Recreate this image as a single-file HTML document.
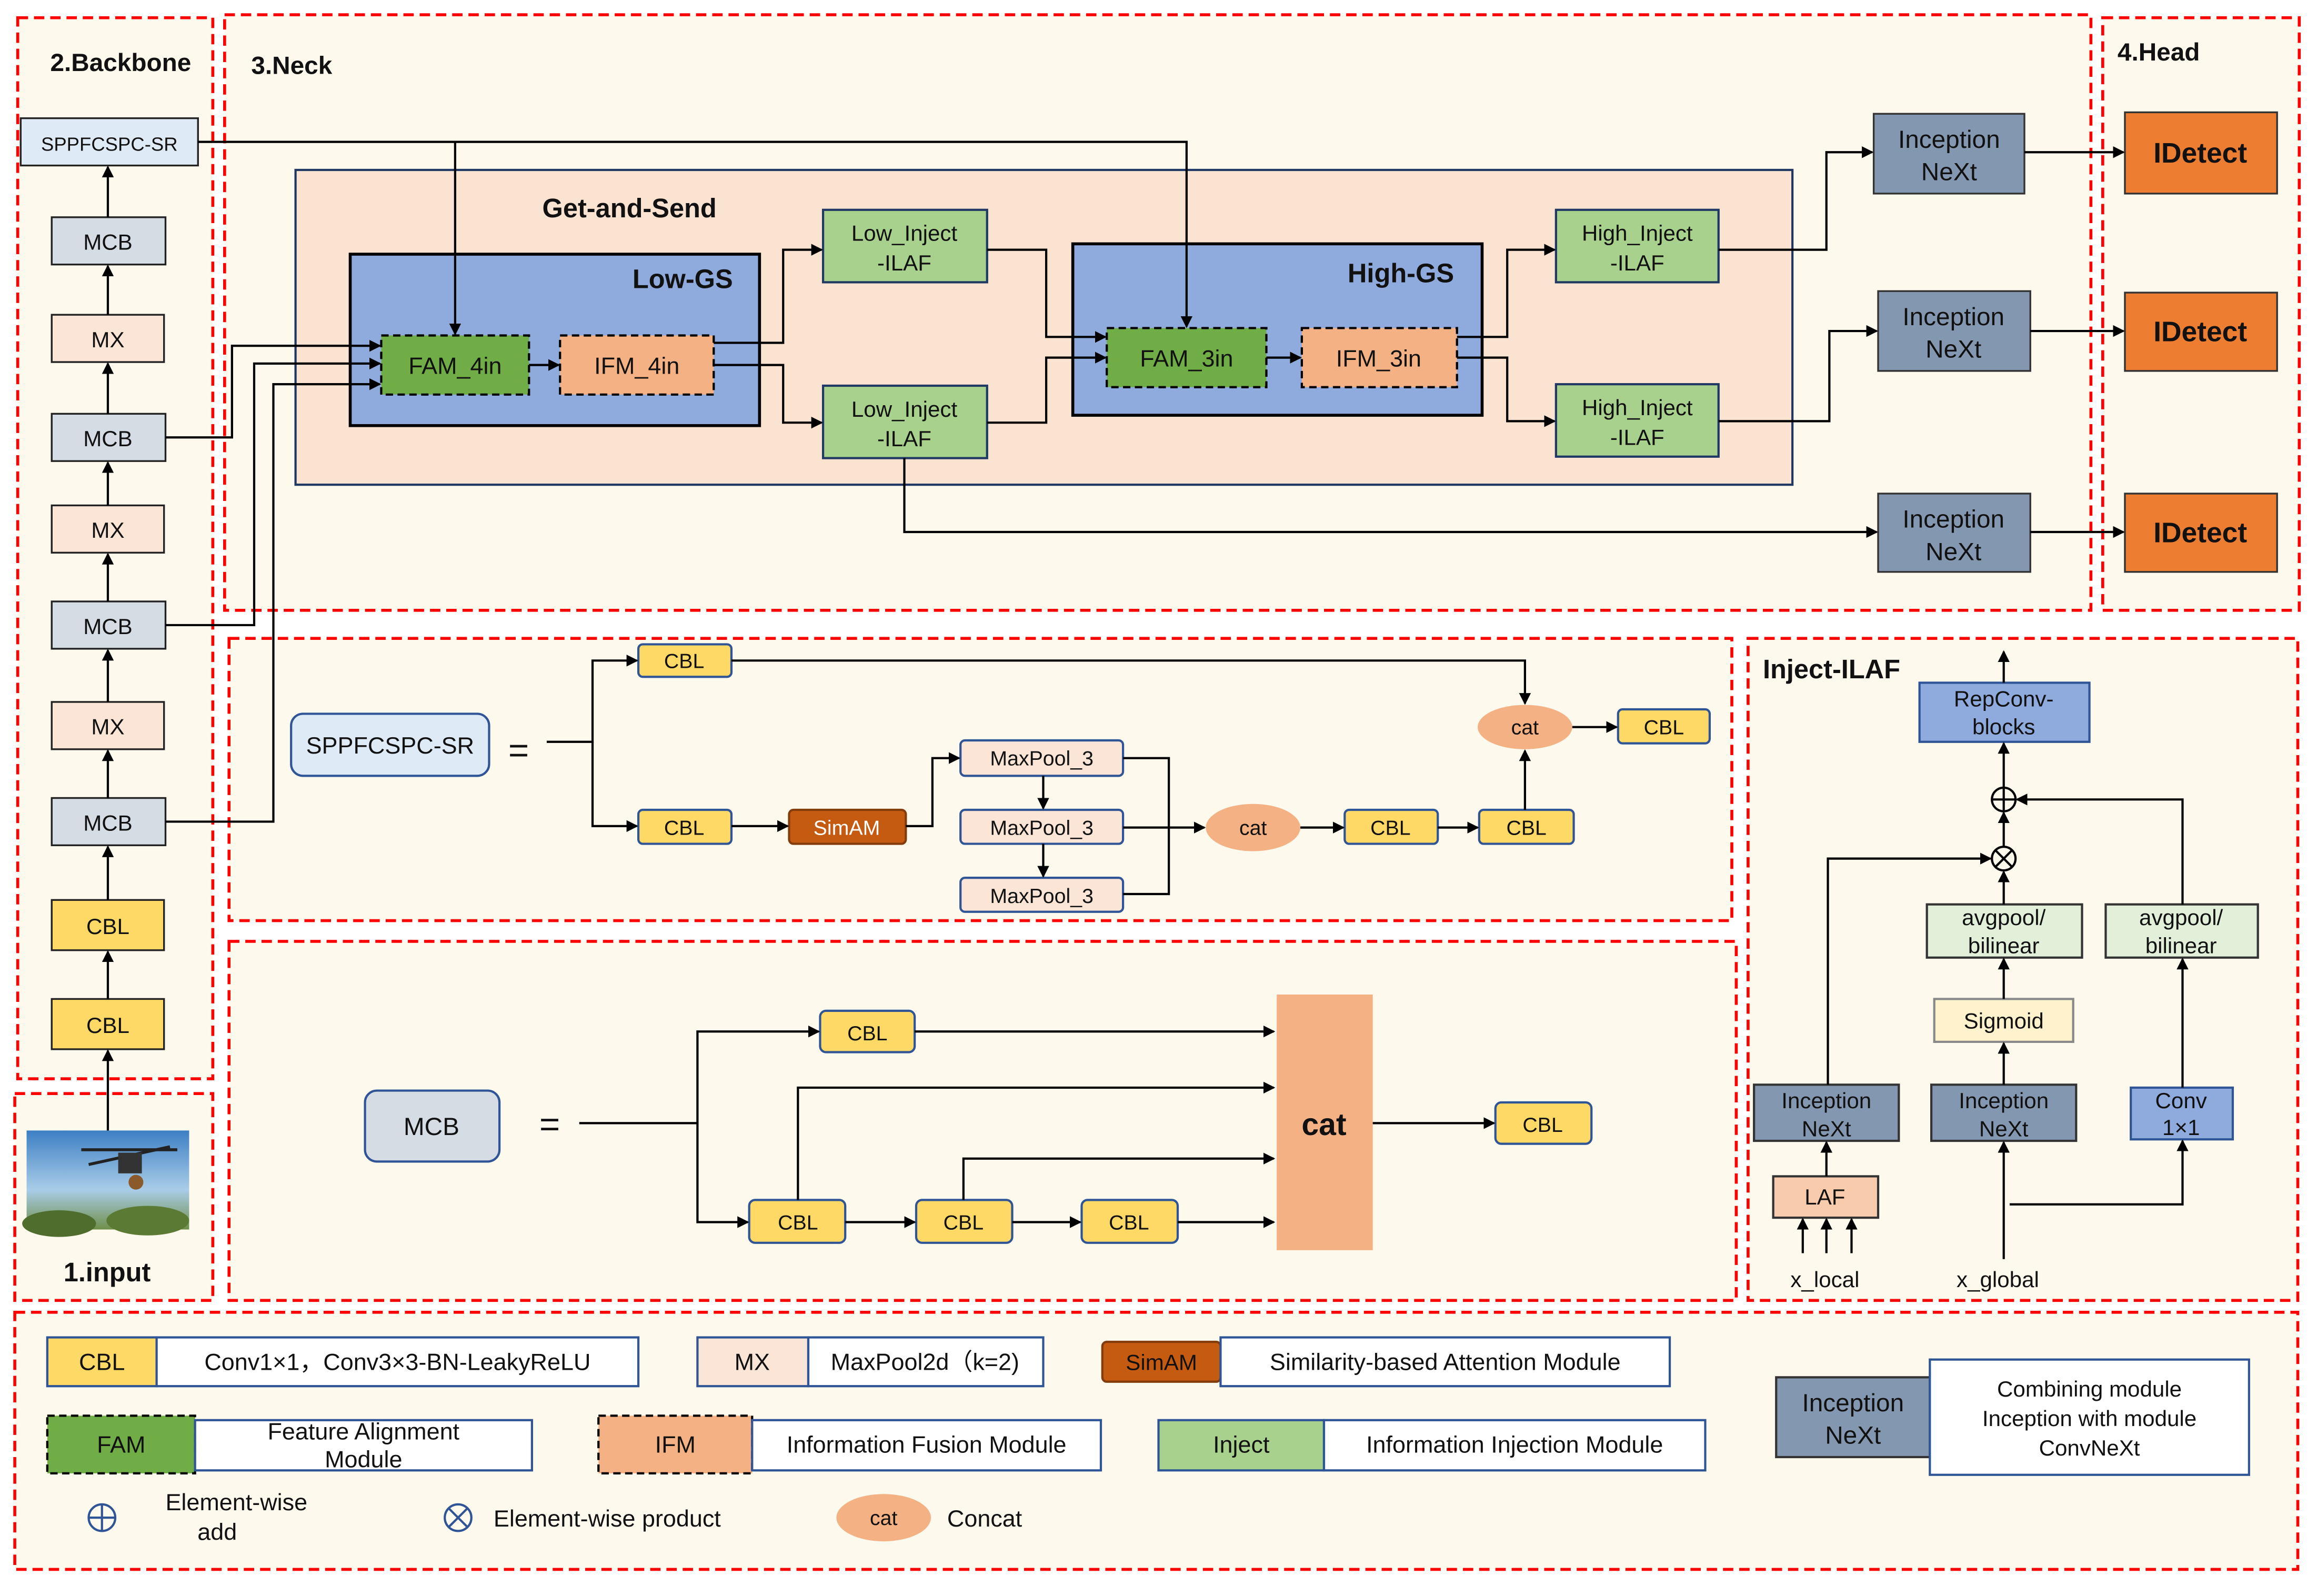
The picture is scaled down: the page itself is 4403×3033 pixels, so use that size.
<!DOCTYPE html>
<html><head><meta charset="utf-8"><style>
html,body{margin:0;padding:0;background:#fff;}
svg{display:block;}
text{font-family:"Liberation Sans",sans-serif;fill:#111;}
</style></head><body>
<svg width="4403" height="3033" viewBox="0 0 1568 1080" preserveAspectRatio="none" xmlns="http://www.w3.org/2000/svg">
<defs>
<marker id="a" markerWidth="8" markerHeight="8" refX="7" refY="4" orient="auto" markerUnits="userSpaceOnUse"><path d="M0,0 L8,4 L0,8 z" fill="#000"/></marker>
<linearGradient id="sky" x1="0" y1="0" x2="0" y2="1"><stop offset="0" stop-color="#3d7fc4"/><stop offset="0.6" stop-color="#a9cde8"/><stop offset="1" stop-color="#6f8f4a"/></linearGradient>
</defs>
<rect width="1568" height="1080" fill="#fff"/>
<!-- region backgrounds -->
<g fill="#fdf9ec" stroke="#f00" stroke-width="2" stroke-dasharray="7,4">
<rect x="12" y="12" width="132" height="718"/>
<rect x="10" y="740" width="134" height="140"/>
<rect x="152" y="10" width="1263" height="403"/>
<rect x="1423" y="12" width="133" height="401"/>
<rect x="155" y="432" width="1017" height="191"/>
<rect x="155" y="637" width="1020" height="243"/>
<rect x="1183" y="432" width="372" height="448"/>
<rect x="10" y="888" width="1545" height="174"/>
</g>
<g font-weight="bold" font-size="17">
<text x="34" y="48">2.Backbone</text>
<text x="170" y="50">3.Neck</text>
<text x="1433" y="41">4.Head</text>
<text x="43" y="867" font-size="18">1.input</text>
<text x="1193" y="459" font-size="18">Inject-ILAF</text>
</g>
<!-- input image -->
<rect x="18" y="765" width="110" height="67" fill="url(#sky)"/>
<ellipse cx="40" cy="828" rx="25" ry="9" fill="#4f6e2e"/><ellipse cx="100" cy="826" rx="28" ry="10" fill="#5b7a34"/>
<g stroke="#222" stroke-width="2"><line x1="55" y1="778" x2="120" y2="778"/><line x1="60" y1="788" x2="115" y2="776"/></g>
<rect x="80" y="780" width="16" height="14" fill="#333"/><circle cx="92" cy="800" r="5" fill="#8a5a2a"/>
<!-- backbone nodes -->
<g stroke="#222" stroke-width="1.2" font-size="15" text-anchor="middle">
<rect x="14" y="80" width="120" height="32" fill="#deebf7"/><text x="74" y="102" font-size="13" stroke="none">SPPFCSPC-SR</text>
<rect x="35" y="147" width="77" height="32" fill="#d6dce4"/><text x="73" y="169" stroke="none">MCB</text>
<rect x="35" y="213" width="76" height="32" fill="#fbe5d6"/><text x="73" y="235" stroke="none">MX</text>
<rect x="35" y="280" width="77" height="32" fill="#d6dce4"/><text x="73" y="302" stroke="none">MCB</text>
<rect x="35" y="342" width="76" height="32" fill="#fbe5d6"/><text x="73" y="364" stroke="none">MX</text>
<rect x="35" y="407" width="77" height="32" fill="#d6dce4"/><text x="73" y="429" stroke="none">MCB</text>
<rect x="35" y="475" width="76" height="32" fill="#fbe5d6"/><text x="73" y="497" stroke="none">MX</text>
<rect x="35" y="540" width="77" height="32" fill="#d6dce4"/><text x="73" y="562" stroke="none">MCB</text>
<rect x="35" y="609" width="76" height="34" fill="#ffd966"/><text x="73" y="632" stroke="none">CBL</text>
<rect x="35" y="676" width="76" height="34" fill="#ffd966"/><text x="73" y="699" stroke="none">CBL</text>
</g>
<g stroke="#000" stroke-width="1.5" fill="none" marker-end="url(#a)">
<line x1="73" y1="765" x2="73" y2="711"/><line x1="73" y1="676" x2="73" y2="644"/><line x1="73" y1="609" x2="73" y2="573"/>
<line x1="73" y1="540" x2="73" y2="508"/><line x1="73" y1="475" x2="73" y2="440"/><line x1="73" y1="407" x2="73" y2="375"/>
<line x1="73" y1="342" x2="73" y2="313"/><line x1="73" y1="280" x2="73" y2="246"/><line x1="73" y1="213" x2="73" y2="180"/><line x1="73" y1="147" x2="73" y2="113"/>
</g>
<!-- Neck -->
<rect x="200" y="115" width="1013" height="213" fill="#fbe3d2" stroke="#1f3864" stroke-width="1.5"/>
<text x="367" y="147" font-size="18" font-weight="bold">Get-and-Send</text>
<rect x="237" y="172" width="277" height="116" fill="#8faadc" stroke="#000" stroke-width="2"/>
<text x="428" y="195" font-size="18" font-weight="bold">Low-GS</text>
<rect x="726" y="165" width="277" height="116" fill="#8faadc" stroke="#000" stroke-width="2"/>
<text x="912" y="191" font-size="18" font-weight="bold">High-GS</text>
<g stroke="#000" stroke-width="1.5" stroke-dasharray="5,3" font-size="16" text-anchor="middle">
<rect x="258" y="227" width="100" height="40" fill="#70ad47"/><text x="308" y="253" stroke="none">FAM_4in</text>
<rect x="379" y="227" width="104" height="40" fill="#f4b183"/><text x="431" y="253" stroke="none">IFM_4in</text>
<rect x="749" y="222" width="108" height="40" fill="#70ad47"/><text x="803" y="248" stroke="none">FAM_3in</text>
<rect x="881" y="222" width="105" height="40" fill="#f4b183"/><text x="933" y="248" stroke="none">IFM_3in</text>
</g>
<g stroke="#1f3864" stroke-width="1.5" font-size="15" text-anchor="middle">
<rect x="557" y="142" width="111" height="49" fill="#a9d18e"/><text x="612" y="163" stroke="none">Low_Inject</text><text x="612" y="183" stroke="none">-ILAF</text>
<rect x="557" y="261" width="111" height="49" fill="#a9d18e"/><text x="612" y="282" stroke="none">Low_Inject</text><text x="612" y="302" stroke="none">-ILAF</text>
<rect x="1053" y="142" width="110" height="49" fill="#a9d18e"/><text x="1108" y="163" stroke="none">High_Inject</text><text x="1108" y="183" stroke="none">-ILAF</text>
<rect x="1053" y="260" width="110" height="49" fill="#a9d18e"/><text x="1108" y="281" stroke="none">High_Inject</text><text x="1108" y="301" stroke="none">-ILAF</text>
</g>
<g stroke="#333" stroke-width="1.2" font-size="17" text-anchor="middle">
<rect x="1268" y="77" width="102" height="54" fill="#8497b0"/><text x="1319" y="100" stroke="none">Inception</text><text x="1319" y="122" stroke="none">NeXt</text>
<rect x="1271" y="197" width="103" height="54" fill="#8497b0"/><text x="1322" y="220" stroke="none">Inception</text><text x="1322" y="242" stroke="none">NeXt</text>
<rect x="1271" y="334" width="103" height="53" fill="#8497b0"/><text x="1322" y="357" stroke="none">Inception</text><text x="1322" y="379" stroke="none">NeXt</text>
<rect x="1438" y="76" width="103" height="55" fill="#ed7d31"/><text x="1489" y="110" font-size="19" font-weight="bold" stroke="none">IDetect</text>
<rect x="1438" y="198" width="103" height="53" fill="#ed7d31"/><text x="1489" y="231" font-size="19" font-weight="bold" stroke="none">IDetect</text>
<rect x="1438" y="334" width="103" height="53" fill="#ed7d31"/><text x="1489" y="367" font-size="19" font-weight="bold" stroke="none">IDetect</text>
</g>
<g stroke="#000" stroke-width="1.5" fill="none" marker-end="url(#a)">
<polyline points="134,96 803,96 803,221"/>
<polyline points="308,96 308,226"/>
<polyline points="112,296 157,296 157,234 257,234"/>
<polyline points="112,423 172,423 172,246 257,246"/>
<polyline points="112,556 185,556 185,260 257,260"/>
<line x1="358" y1="247" x2="378" y2="247"/>
<polyline points="483,232 530,232 530,169 556,169"/>
<polyline points="483,247 530,247 530,286 556,286"/>
<polyline points="668,169 708,169 708,228 748,228"/>
<polyline points="668,286 708,286 708,242 748,242"/>
<line x1="857" y1="242" x2="880" y2="242"/>
<polyline points="986,228 1020,228 1020,169 1052,169"/>
<polyline points="986,242 1020,242 1020,285 1052,285"/>
<polyline points="1163,169 1236,169 1236,103 1267,103"/>
<polyline points="1163,285 1238,285 1238,224 1270,224"/>
<polyline points="612,310 612,360 1270,360"/>
<line x1="1370" y1="103" x2="1437" y2="103"/>
<line x1="1374" y1="224" x2="1437" y2="224"/>
<line x1="1374" y1="360" x2="1437" y2="360"/>
</g>
<!-- SPPF detail -->
<rect x="197" y="483" width="134" height="42" rx="8" fill="#deebf7" stroke="#2f5597" stroke-width="1.5"/>
<text x="264" y="510" font-size="16" text-anchor="middle">SPPFCSPC-SR</text>
<text x="351" y="516" font-size="24" text-anchor="middle">=</text>
<g stroke="#2f5597" stroke-width="1.5" font-size="14" text-anchor="middle">
<rect x="432" y="436" width="63" height="22" rx="3" fill="#ffd966"/><text x="463" y="452" stroke="none">CBL</text>
<rect x="432" y="548" width="63" height="23" rx="3" fill="#ffd966"/><text x="463" y="565" stroke="none">CBL</text>
<rect x="534" y="548" width="79" height="23" rx="3" fill="#c55a11" stroke="#843c0c"/><text x="573" y="565" stroke="none" style="fill:#fff">SimAM</text>
<rect x="650" y="501" width="110" height="24" rx="3" fill="#fbe5d6"/><text x="705" y="518" stroke="none">MaxPool_3</text>
<rect x="650" y="548" width="110" height="23" rx="3" fill="#fbe5d6"/><text x="705" y="565" stroke="none">MaxPool_3</text>
<rect x="650" y="594" width="110" height="23" rx="3" fill="#fbe5d6"/><text x="705" y="611" stroke="none">MaxPool_3</text>
<rect x="910" y="548" width="63" height="23" rx="3" fill="#ffd966"/><text x="941" y="565" stroke="none">CBL</text>
<rect x="1001" y="548" width="64" height="23" rx="3" fill="#ffd966"/><text x="1033" y="565" stroke="none">CBL</text>
<rect x="1095" y="480" width="62" height="23" rx="3" fill="#ffd966"/><text x="1126" y="497" stroke="none">CBL</text>
</g>
<ellipse cx="1032" cy="492" rx="32" ry="15" fill="#f4b183"/><text x="1032" y="497" font-size="14" text-anchor="middle">cat</text>
<ellipse cx="848" cy="560" rx="32" ry="16" fill="#f4b183"/><text x="848" y="565" font-size="14" text-anchor="middle">cat</text>
<g stroke="#000" stroke-width="1.5" fill="none" marker-end="url(#a)">
<polyline points="370,502 401,502 401,447 431,447"/>
<polyline points="401,502 401,559 431,559"/>
<polyline points="495,447 1032,447 1032,476"/>
<line x1="495" y1="559" x2="533" y2="559"/>
<polyline points="613,559 631,559 631,513 649,513"/>
<line x1="706" y1="525" x2="706" y2="547"/><line x1="706" y1="571" x2="706" y2="593"/>
<line x1="760" y1="560" x2="815" y2="560"/>
<line x1="880" y1="560" x2="909" y2="560"/>
<line x1="973" y1="560" x2="1000" y2="560"/>
<line x1="1032" y1="548" x2="1032" y2="508"/>
<line x1="1064" y1="492" x2="1094" y2="492"/>
</g>
<polyline points="760,513 791,513 791,605 760,605" stroke="#000" stroke-width="1.5" fill="none"/>
<!-- MCB detail -->
<rect x="247" y="738" width="91" height="48" rx="8" fill="#d6dce4" stroke="#2f5597" stroke-width="1.5"/>
<text x="292" y="768" font-size="17" text-anchor="middle">MCB</text>
<text x="372" y="769" font-size="24" text-anchor="middle">=</text>
<rect x="864" y="673" width="65" height="173" fill="#f4b183"/>
<text x="896" y="768" font-size="21" font-weight="bold" text-anchor="middle">cat</text>
<g stroke="#2f5597" stroke-width="1.5" font-size="14" text-anchor="middle">
<rect x="555" y="684" width="64" height="28" rx="4" fill="#ffd966"/><text x="587" y="704" stroke="none">CBL</text>
<rect x="507" y="812" width="65" height="29" rx="4" fill="#ffd966"/><text x="540" y="832" stroke="none">CBL</text>
<rect x="620" y="812" width="65" height="29" rx="4" fill="#ffd966"/><text x="652" y="832" stroke="none">CBL</text>
<rect x="732" y="812" width="65" height="29" rx="4" fill="#ffd966"/><text x="764" y="832" stroke="none">CBL</text>
<rect x="1012" y="746" width="65" height="28" rx="4" fill="#ffd966"/><text x="1044" y="766" stroke="none">CBL</text>
</g>
<g stroke="#000" stroke-width="1.5" fill="none" marker-end="url(#a)">
<polyline points="392,760 472,760 472,698 554,698"/>
<polyline points="472,760 472,827 506,827"/>
<line x1="619" y1="698" x2="862" y2="698"/>
<polyline points="540,812 540,736 862,736"/>
<polyline points="652,812 652,784 862,784"/>
<line x1="572" y1="827" x2="619" y2="827"/>
<line x1="685" y1="827" x2="731" y2="827"/>
<line x1="797" y1="827" x2="862" y2="827"/>
<line x1="929" y1="760" x2="1011" y2="760"/>
</g>
<!-- Inject-ILAF -->
<g stroke="#2f5597" stroke-width="1.5" font-size="15" text-anchor="middle">
<rect x="1299" y="462" width="115" height="40" fill="#8faadc"/><text x="1356" y="478" stroke="none">RepConv-</text><text x="1356" y="497" stroke="none">blocks</text>
<rect x="1304" y="612" width="105" height="36" fill="#e2f0d9" stroke="#333"/><text x="1356" y="626" stroke="none">avgpool/</text><text x="1356" y="645" stroke="none">bilinear</text>
<rect x="1425" y="612" width="103" height="36" fill="#e2f0d9" stroke="#333"/><text x="1476" y="626" stroke="none">avgpool/</text><text x="1476" y="645" stroke="none">bilinear</text>
<rect x="1309" y="676" width="94" height="29" fill="#fff2cc" stroke="#888"/><text x="1356" y="696" stroke="none">Sigmoid</text>
<rect x="1187" y="734" width="98" height="38" fill="#8497b0" stroke="#333"/><text x="1236" y="750" stroke="none">Inception</text><text x="1236" y="769" stroke="none">NeXt</text>
<rect x="1307" y="734" width="98" height="38" fill="#8497b0" stroke="#333"/><text x="1356" y="750" stroke="none">Inception</text><text x="1356" y="769" stroke="none">NeXt</text>
<rect x="1442" y="736" width="69" height="35" fill="#8faadc"/><text x="1476" y="750" stroke="none">Conv</text><text x="1476" y="768" stroke="none">1×1</text>
<rect x="1200" y="796" width="71" height="28" fill="#f8cbad" stroke="#333"/><text x="1235" y="815" stroke="none">LAF</text>
</g>
<text x="1235" y="871" font-size="15" text-anchor="middle">x_local</text>
<text x="1352" y="871" font-size="15" text-anchor="middle">x_global</text>
<g stroke="#000" stroke-width="1.5" fill="none">
<circle cx="1356" cy="541" r="8"/><line x1="1348" y1="541" x2="1364" y2="541"/><line x1="1356" y1="533" x2="1356" y2="549"/>
<circle cx="1356" cy="581" r="8"/><line x1="1350" y1="575" x2="1362" y2="587"/><line x1="1362" y1="575" x2="1350" y2="587"/>
</g>
<g stroke="#000" stroke-width="1.5" fill="none" marker-end="url(#a)">
<line x1="1356" y1="462" x2="1356" y2="441"/>
<line x1="1356" y1="533" x2="1356" y2="503"/>
<line x1="1356" y1="573" x2="1356" y2="550"/>
<line x1="1356" y1="612" x2="1356" y2="590"/>
<polyline points="1237,734 1237,581 1347,581"/>
<polyline points="1477,612 1477,541 1365,541"/>
<line x1="1356" y1="676" x2="1356" y2="649"/>
<line x1="1356" y1="734" x2="1356" y2="706"/>
<line x1="1356" y1="852" x2="1356" y2="773"/>
<polyline points="1360,815 1477,815 1477,772"/>
<line x1="1477" y1="736" x2="1477" y2="649"/>
<line x1="1236" y1="796" x2="1236" y2="773"/>
<line x1="1220" y1="848" x2="1220" y2="825"/><line x1="1236" y1="848" x2="1236" y2="825"/><line x1="1253" y1="848" x2="1253" y2="825"/>
</g>
<!-- Legend -->
<g stroke="#2f5597" stroke-width="1.5" font-size="16" text-anchor="middle">
<rect x="32" y="905" width="74" height="33" fill="#ffd966"/><text x="69" y="927" stroke="none">CBL</text>
<rect x="106" y="905" width="326" height="33" fill="#fff"/><text x="269" y="927" stroke="none">Conv1×1，Conv3×3-BN-LeakyReLU</text>
<rect x="472" y="905" width="75" height="33" fill="#fbe5d6"/><text x="509" y="927" stroke="none">MX</text>
<rect x="547" y="905" width="159" height="33" fill="#fff"/><text x="626" y="927" stroke="none">MaxPool2d（k=2)</text>
<rect x="746" y="908" width="80" height="27" rx="3" fill="#c55a11" stroke="#843c0c"/><text x="786" y="927" stroke="none" font-size="15">SimAM</text>
<rect x="826" y="905" width="304" height="33" fill="#fff"/><text x="978" y="927" stroke="none">Similarity-based Attention Module</text>
<rect x="32" y="958" width="100" height="39" fill="#70ad47" stroke="#000" stroke-dasharray="5,3"/><text x="82" y="983" stroke="none">FAM</text>
<rect x="132" y="961" width="228" height="34" fill="#fff"/><text x="246" y="974" stroke="none">Feature Alignment</text><text x="246" y="993" stroke="none">Module</text>
<rect x="405" y="958" width="104" height="39" fill="#f4b183" stroke="#000" stroke-dasharray="5,3"/><text x="457" y="983" stroke="none">IFM</text>
<rect x="509" y="961" width="236" height="34" fill="#fff"/><text x="627" y="983" stroke="none">Information Fusion Module</text>
<rect x="784" y="961" width="112" height="34" fill="#a9d18e"/><text x="840" y="983" stroke="none">Inject</text>
<rect x="896" y="961" width="258" height="34" fill="#fff"/><text x="1025" y="983" stroke="none">Information Injection Module</text>
<rect x="1202" y="932" width="104" height="54" fill="#8497b0" stroke="#333"/><text x="1254" y="955" stroke="none" font-size="17">Inception</text><text x="1254" y="977" stroke="none" font-size="17">NeXt</text>
<rect x="1306" y="920" width="216" height="78" fill="#fff"/><text x="1414" y="945" stroke="none" font-size="15">Combining module</text><text x="1414" y="965" stroke="none" font-size="15">Inception with module</text><text x="1414" y="985" stroke="none" font-size="15">ConvNeXt</text>
</g>
<g stroke="#2f5597" stroke-width="1.5" fill="none">
<circle cx="69" cy="1027" r="9"/><line x1="60" y1="1027" x2="78" y2="1027"/><line x1="69" y1="1018" x2="69" y2="1036"/>
<circle cx="310" cy="1027" r="9"/><line x1="304" y1="1021" x2="316" y2="1033"/><line x1="316" y1="1021" x2="304" y2="1033"/>
</g>
<text x="160" y="1022" font-size="16" text-anchor="middle">Element-wise</text>
<text x="147" y="1042" font-size="16" text-anchor="middle">add</text>
<text x="334" y="1033" font-size="16">Element-wise product</text>
<ellipse cx="598" cy="1027" rx="32" ry="16" fill="#f4b183"/><text x="598" y="1032" font-size="14" text-anchor="middle">cat</text>
<text x="641" y="1033" font-size="16">Concat</text>
</svg>
</body></html>
